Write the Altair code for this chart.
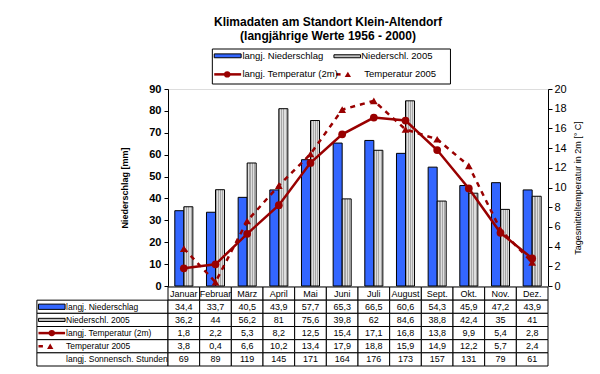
import altair as alt
import pandas as pd

# ---------------- data ----------------
months = ["Januar", "Februar", "März", "April", "Mai", "Juni", "Juli",
          "August", "Sept.", "Okt.", "Nov.", "Dez."]
nied_lang = [34.4, 33.7, 40.5, 43.9, 57.7, 65.3, 66.5, 60.6, 54.3, 45.9, 47.2, 43.9]
nied_2005 = [36.2, 44, 56.2, 81, 75.6, 39.8, 62, 84.6, 38.8, 42.4, 35, 41]
temp_lang = [1.8, 2.2, 5.3, 8.2, 12.5, 15.4, 17.1, 16.8, 13.8, 9.9, 5.4, 2.8]
temp_2005 = [3.8, 0.4, 6.6, 10.2, 13.4, 17.9, 18.8, 15.9, 14.9, 12.2, 5.7, 2.4]
sonne = [69, 89, 119, 145, 171, 164, 176, 173, 157, 131, 79, 61]

row_labels = ["langj. Niederschlag", "Niederschl. 2005", "langj. Temperatur (2m)",
              "Temperatur 2005", "langj. Sonnensch. Stunden"]
title_lines = ["Klimadaten am Standort Klein-Altendorf", "(langjährige Werte 1956 - 2000)"]
y_left_title = "Niederschlag [mm]"
y_right_title = "Tagesmitteltemperatur in 2m [° C]"

# ---------------- style ----------------
FONT = "Liberation Sans"
BLUE = "#3366ff"
GRAY = "#c0c0c0"
RED = "#990000"
W, H = 380, 197


def fmt(v):
    return ("%g" % v).replace(".", ",")


# hatch-like fill for the 2005 bars (fine stripes)
N_STRIPES = 8
stops = []
for k in range(N_STRIPES):
    c = "#a6a6a6" if k % 2 == 0 else "#dedede"
    stops.append(alt.GradientStop(offset=k / N_STRIPES, color=c))
    stops.append(alt.GradientStop(offset=(k + 1) / N_STRIPES, color=c))
HATCH = alt.LinearGradient(gradient="linear", stops=stops, x1=0, x2=1, y1=0, y2=0)

# ---------------- main chart ----------------
df_lang = pd.DataFrame({"month": months, "series": "lang", "value": nied_lang})
df_05 = pd.DataFrame({"month": months, "series": "2005", "value": nied_2005})
df_t = pd.DataFrame({
    "month": months * 2,
    "tseries": ["lang"] * 12 + ["2005"] * 12,
    "temp": temp_lang + temp_2005,
})

x_band = alt.X("month:N", sort=months,
               scale=alt.Scale(paddingInner=0.43, paddingOuter=0.215), axis=None)
x_off = alt.XOffset("series:N", scale=alt.Scale(domain=["lang", "2005"]))
y_n = alt.Y("value:Q", scale=alt.Scale(domain=[0, 90], nice=False),
            axis=alt.Axis(orient="left", values=list(range(0, 91, 10)),
                          title=y_left_title, grid=False, tickSize=4,
                          labelPadding=3, labelFont=FONT, labelFontSize=11,
                          labelFontWeight="bold", labelColor="black",
                          titleFont=FONT, titleFontSize=9, titleFontWeight="bold",
                          titleColor="black", titlePadding=19,
                          domainColor="black", tickColor="black"))

bars_lang = alt.Chart(df_lang).mark_bar(fill=BLUE, stroke="black", strokeWidth=1).encode(
    x=x_band, xOffset=x_off, y=y_n)
bars_05 = alt.Chart(df_05).mark_bar(fill=HATCH, stroke="black", strokeWidth=1).encode(
    x=x_band, xOffset=x_off, y=y_n)
bars = alt.layer(bars_lang, bars_05)

y_t = alt.Y("temp:Q", scale=alt.Scale(domain=[0, 20], nice=False),
            axis=alt.Axis(orient="right", values=list(range(0, 21, 2)),
                          title=y_right_title, titleAngle=270, titleBaseline="top",
                          grid=False, tickSize=4,
                          labelPadding=2, labelFont=FONT, labelFontSize=11,
                          labelColor="black", titleFont=FONT, titleFontSize=9,
                          titleFontWeight="normal", titleColor="black", titlePadding=7,
                          domainColor="black", tickColor="black"))

base_t = alt.Chart(df_t)
line_lang = base_t.transform_filter(alt.datum.tseries == "lang").mark_line(
    color=RED, strokeWidth=2.5).encode(x=x_band, y=y_t)
line_05 = base_t.transform_filter(alt.datum.tseries == "2005").mark_line(
    color=RED, strokeWidth=2.5, strokeDash=[5, 5]).encode(x=x_band, y=y_t)
pts_lang = base_t.transform_filter(alt.datum.tseries == "lang").mark_point(
    shape="circle", filled=True, size=60, color=RED, opacity=1).encode(x=x_band, y=y_t)
pts_05 = base_t.transform_filter(alt.datum.tseries == "2005").mark_point(
    shape="triangle-up", filled=True, size=60, color=RED, opacity=1).encode(x=x_band, y=y_t)
temps = alt.layer(line_lang, line_05, pts_lang, pts_05)

# ---------------- data table below the plot ----------------
LBL_X0 = -4.14     # left edge of label column (in month units)
SYM_X0, SYM_X1 = -4.09, -3.25
LBL_TX = -3.22
xs = alt.Scale(domain=[0, 12], range=[0, W], nice=False, zero=False)
ys_tab = alt.Scale(domain=[0, 6], range=[198, 277], nice=False, zero=False)

cells = []
for i in range(12):
    cells.append({"x0": i, "x1": i + 1, "y0": 0, "y1": 1})
for r in range(1, 6):
    cells.append({"x0": LBL_X0, "x1": 0, "y0": r, "y1": r + 1})
    for i in range(12):
        cells.append({"x0": i, "x1": i + 1, "y0": r, "y1": r + 1})
df_cells = pd.DataFrame(cells)

vals = []
rows_data = [nied_lang, nied_2005, temp_lang, temp_2005, sonne]
for i, m in enumerate(months):
    vals.append({"x": i + 0.5, "y": 0.5, "t": m})
for r, arr in enumerate(rows_data, start=1):
    for i, v in enumerate(arr):
        vals.append({"x": i + 0.5, "y": r + 0.5, "t": fmt(v)})
df_vals = pd.DataFrame(vals)
df_rowlab = pd.DataFrame({"x": [LBL_TX] * 5, "y": [r + 0.5 for r in range(1, 6)],
                          "t": row_labels})
df_symrect = pd.DataFrame({"x0": [SYM_X0, SYM_X0], "x1": [SYM_X1, SYM_X1],
                           "y0": [1.3, 2.38], "y1": [1.7, 2.62], "c": [BLUE, GRAY]})
df_symline = pd.DataFrame({"x0": [SYM_X0, SYM_X0], "x1": [SYM_X1, -3.95],
                           "y": [3.5, 4.5]})
df_sympt = pd.DataFrame({"x": [-3.67, -3.72], "y": [3.5, 4.5],
                         "s": ["circle", "triangle-up"]})

tx = lambda f: alt.X(f, scale=xs, axis=None)
ty = lambda f: alt.Y(f, scale=ys_tab, axis=None)

tab_cells = alt.Chart(df_cells).mark_rect(fill="white", stroke="black", strokeWidth=1).encode(
    x=tx("x0:Q"), x2="x1:Q", y=ty("y0:Q"), y2="y1:Q")
tab_vals = alt.Chart(df_vals).mark_text(font=FONT, fontSize=9, color="black",
                                         align="center", baseline="middle").encode(
    x=tx("x:Q"), y=ty("y:Q"), text="t:N")
tab_lab = alt.Chart(df_rowlab).mark_text(font=FONT, fontSize=8.5, color="black",
                                          align="left", baseline="middle").encode(
    x=tx("x:Q"), y=ty("y:Q"), text="t:N")
tab_symrect = alt.Chart(df_symrect).mark_rect(stroke="black", strokeWidth=1).encode(
    x=tx("x0:Q"), x2="x1:Q", y=ty("y0:Q"), y2="y1:Q",
    fill=alt.Fill("c:N", scale=None))
tab_symline = alt.Chart(df_symline).mark_rule(color=RED, strokeWidth=2.5).encode(
    x=tx("x0:Q"), x2="x1:Q", y=ty("y:Q"))
tab_sympt = alt.Chart(df_sympt).mark_point(filled=True, size=40, color=RED, opacity=1).encode(
    x=tx("x:Q"), y=ty("y:Q"), shape=alt.Shape("s:N", scale=None))
table = alt.layer(tab_cells, tab_vals, tab_lab, tab_symrect, tab_symline, tab_sympt)

# ---------------- legend box above the plot ----------------
ys_leg = alt.Scale(domain=[0, 2], range=[-40, -5], nice=False, zero=False)
ly = lambda f: alt.Y(f, scale=ys_leg, axis=None)
df_lbox = pd.DataFrame({"x0": [1.40], "x1": [8.92], "y0": [0], "y1": [2]})
df_lrect = pd.DataFrame({"x0": [1.46, 5.24], "x1": [2.31, 6.08],
                         "y0": [0.28, 0.33], "y1": [0.50, 0.50], "c": [BLUE, GRAY]})
df_lline = pd.DataFrame({"x0": [1.46, 5.31], "x1": [2.31, 5.45], "y": [1.45, 1.45]})
df_lpt = pd.DataFrame({"x": [1.87, 5.68], "y": [1.45, 1.45], "s": ["circle", "triangle-up"]})
df_ltext = pd.DataFrame({"x": [2.35, 6.10, 2.35, 6.20], "y": [0.42, 0.42, 1.45, 1.45],
                         "t": ["langj. Niederschlag", "Niederschl. 2005",
                               "langj. Temperatur (2m)", "Temperatur 2005"]})

leg_box = alt.Chart(df_lbox).mark_rect(fill="white", stroke="black", strokeWidth=1).encode(
    x=tx("x0:Q"), x2="x1:Q", y=ly("y0:Q"), y2="y1:Q")
leg_rect = alt.Chart(df_lrect).mark_rect(stroke="black", strokeWidth=1).encode(
    x=tx("x0:Q"), x2="x1:Q", y=ly("y0:Q"), y2="y1:Q", fill=alt.Fill("c:N", scale=None))
leg_line = alt.Chart(df_lline).mark_rule(color=RED, strokeWidth=2.5).encode(
    x=tx("x0:Q"), x2="x1:Q", y=ly("y:Q"))
leg_pt = alt.Chart(df_lpt).mark_point(filled=True, size=40, color=RED, opacity=1).encode(
    x=tx("x:Q"), y=ly("y:Q"), shape=alt.Shape("s:N", scale=None))
leg_text = alt.Chart(df_ltext).mark_text(font=FONT, fontSize=9.5, color="black",
                                          align="left", baseline="middle").encode(
    x=tx("x:Q"), y=ly("y:Q"), text="t:N")
legend = alt.layer(leg_box, leg_rect, leg_line, leg_pt, leg_text)

chart = alt.layer(bars, temps, table, legend).resolve_scale(
    x="independent", y="independent"
).properties(
    width=W, height=H,
    padding={"left": 28, "top": 7, "right": 2, "bottom": 2},
    title=alt.TitleParams(text=title_lines, font=FONT, fontSize=12, fontWeight="bold",
                          anchor="middle", offset=6, dx=-30, color="black"),
).configure_view(stroke="black", strokeWidth=1).configure(background="white")

chart.save("out.html", embed_options={"renderer": "svg", "actions": False})
